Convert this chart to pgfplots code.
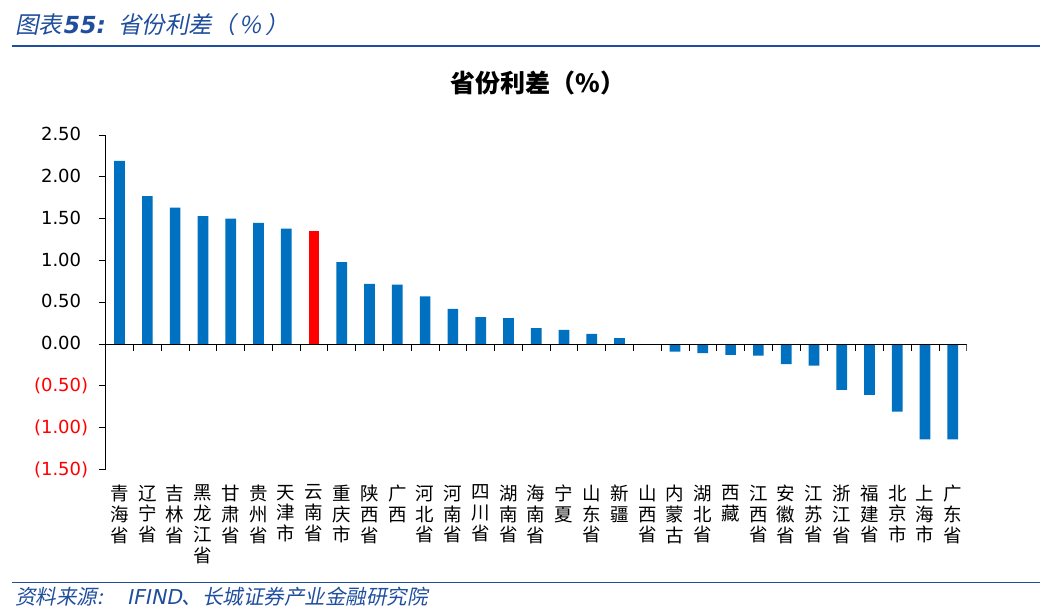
\documentclass[border=0pt]{standalone}
\usepackage{fontspec}
\setmainfont{DejaVu Sans}
\newfontfamily\cjk{Noto Sans CJK SC}
\newfontfamily\cjkit[FakeSlant=0.2]{Noto Sans CJK SC}
\newfontfamily\latit[FakeSlant=0.2]{DejaVu Sans}
\usepackage{pgfplots}
\pgfplotsset{compat=1.18}
\definecolor{barblue}{HTML}{0070C0}
\definecolor{hdblue}{HTML}{1F4E9E}
\begin{document}
\begin{tikzpicture}
\path (0pt,0pt) rectangle (1052pt,614pt);
% header and footer
\node[anchor=base west, text=hdblue, inner sep=0pt] at (15pt,580pt)
  {\cjkit\fontsize{23.5}{26}\selectfont 图表{\latit\bfseries 55:}\hspace{14pt}省份利差（\,\%\,）};
\draw[hdblue, line width=1.3pt] (12pt,568pt) -- (1040pt,568pt);
\draw[hdblue, line width=1.3pt] (12pt,31.5pt) -- (1040pt,31.5pt);
\node[anchor=base west, text=hdblue, inner sep=0pt] at (15pt,10pt)
  {\cjkit\fontsize{20.5}{23}\selectfont 资料来源:\hspace{24pt}{\latit IFIND}、长城证券产业金融研究院};
\node[inner sep=0pt] at (538pt,531pt)
  {\cjk\bfseries\fontsize{25}{28}\selectfont 省份利差（\%）};
\begin{axis}[
    at={(105.7pt,144.6pt)}, anchor=south west,
    width=861pt, height=334.4pt, scale only axis,
    xmin=-0.5, xmax=30.5, ymin=-1.5, ymax=2.5,
    axis lines*=left,
    x axis line style={draw=none},
    xtick={0,...,30},
    xtick style={draw=none},
    xticklabels={{青\\海\\省},{辽\\宁\\省},{吉\\林\\省},{黑\\龙\\江\\省},{甘\\肃\\省},{贵\\州\\省},{天\\津\\市},{云\\南\\省},{重\\庆\\市},{陕\\西\\省},{广\\西},{河\\北\\省},{河\\南\\省},{四\\川\\省},{湖\\南\\省},{海\\南\\省},{宁\\夏},{山\\东\\省},{新\\疆},{山\\西\\省},{内\\蒙\\古},{湖\\北\\省},{西\\藏},{江\\西\\省},{安\\徽\\省},{江\\苏\\省},{浙\\江\\省},{福\\建\\省},{北\\京\\市},{上\\海\\市},{广\\东\\省}},
    xticklabel style={font=\cjk\fontsize{18.5}{20.8}\selectfont, align=center, anchor=north, yshift=-5pt},
    ytick={-1.5,-1,...,2.5},
    yticklabels={\textcolor{red}{(1.50)},\textcolor{red}{(1.00)},\textcolor{red}{(0.50)},0.00\phantom{)},0.50\phantom{)},1.00\phantom{)},1.50\phantom{)},2.00\phantom{)},2.50\phantom{)}},
    yticklabel style={font=\fontsize{18}{21}\selectfont, xshift=-7pt},
    tick align=outside,
    major tick length=7pt,
    ytick style={black, line width=0.8pt},
    y axis line style={black, line width=0.8pt},
    ybar, bar width=10.7pt,
]
\addplot[fill=barblue, draw=none, bar shift=0pt] coordinates {
  (0,2.19) (1,1.77) (2,1.63) (3,1.53) (4,1.50) (5,1.45) (6,1.38)
  (8,0.98) (9,0.72) (10,0.71) (11,0.57) (12,0.42) (13,0.32) (14,0.31)
  (15,0.19) (16,0.17) (17,0.12) (18,0.07) (19,0.00) (20,-0.09) (21,-0.11)
  (22,-0.13) (23,-0.14) (24,-0.24) (25,-0.26) (26,-0.55) (27,-0.61)
  (28,-0.81) (29,-1.14) (30,-1.14)
};
\addplot[fill=red, draw=none, bar shift=0pt] coordinates {(7,1.35)};
\draw[black, line width=0.8pt] (axis cs:-0.5,0) -- (axis cs:30.5,0);
\pgfplotsinvokeforeach{-0.5,0.5,...,30.5}{
  \draw[black, line width=0.8pt] (axis cs:#1,0) -- ++(0pt,-7pt);
}
\end{axis}
\end{tikzpicture}
\end{document}
